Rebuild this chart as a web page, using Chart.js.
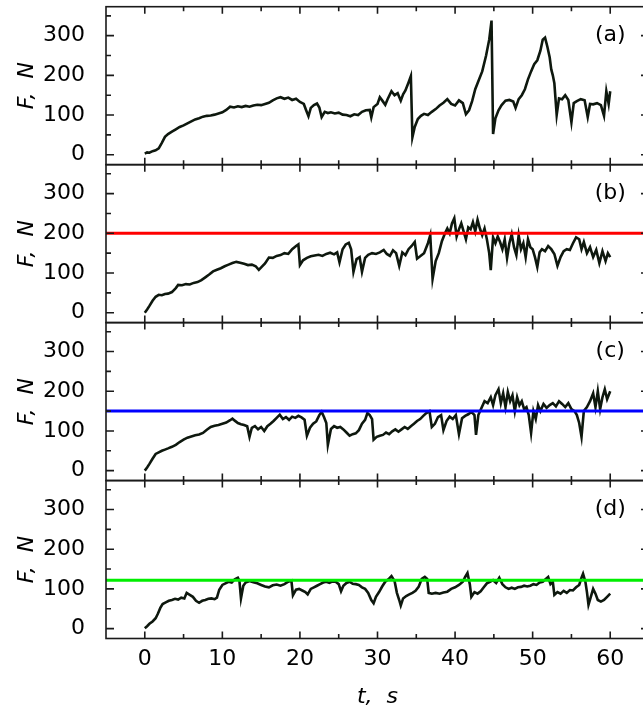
<!DOCTYPE html>
<html>
<head>
<meta charset="utf-8">
<script src="https://cdn.jsdelivr.net/npm/chart.js@4"></script>
<style>
  html, body { margin: 0; padding: 0; background: #fff; overflow: hidden; }
  canvas { display: block; }
</style>
</head>
<body>
<canvas id="forceChart" width="649" height="716"></canvas>
<script>
// time (s) and force (N)
const tA = [0, 0.3, 0.6, 1, 1.4, 1.8, 2.2, 2.6, 3, 3.5, 4, 4.5, 5, 5.5, 6, 6.5, 7, 7.5, 8, 8.5, 9, 9.5, 10, 10.5, 11, 11.5, 12, 12.5, 13, 13.5, 14, 14.5, 15, 15.5, 16, 16.5, 17, 17.5, 18, 18.5, 19, 19.5, 20, 20.5, 20.8, 21.1, 21.4, 21.8, 22.2, 22.5, 22.8, 23.2, 23.6, 24, 24.5, 25, 25.5, 26, 26.5, 27, 27.5, 28, 28.5, 29, 29.2, 29.5, 30, 30.3, 30.6, 31, 31.3, 31.8, 32.2, 32.6, 33, 33.3, 33.6, 34, 34.3, 34.5, 34.8, 35.2, 35.6, 36, 36.5, 37, 37.5, 38, 38.5, 39, 39.5, 40, 40.5, 41, 41.4, 41.8, 42.2, 42.6, 43, 43.5, 44, 44.4, 44.7, 44.9, 45.2, 45.6, 46, 46.5, 47, 47.5, 47.8, 48.2, 48.6, 49, 49.4, 49.8, 50.2, 50.6, 51, 51.3, 51.6, 51.9, 52.2, 52.4, 52.6, 52.8, 53.1, 53.4, 53.8, 54.2, 54.6, 55, 55.3, 55.7, 56.2, 56.7, 57.1, 57.4, 57.8, 58.3, 58.8, 59.2, 59.5, 59.8, 60];
const fA = [3, 6, 5, 9, 11, 16, 30, 45, 52, 58, 64, 70, 74, 79, 84, 89, 92, 96, 98, 99, 101, 104, 107, 113, 121, 119, 122, 120, 123, 121, 124, 126, 125, 128, 131, 137, 142, 145, 141, 144, 138, 141, 133, 128, 112, 97, 118, 125, 129, 119, 95, 108, 105, 107, 104, 106, 101, 100, 97, 102, 100, 108, 112, 113, 94, 120, 128, 145, 137, 126, 140, 160, 150, 155, 136, 152, 162, 182, 198, 44, 70, 90, 98, 103, 100, 108, 115, 124, 131, 140, 128, 124, 137, 130, 102, 112, 135, 165, 185, 210, 250, 290, 338, 52, 92, 112, 125, 136, 138, 134, 118, 140, 150, 165, 190, 210, 228, 238, 262, 290, 295, 272, 245, 215, 200, 180, 100, 142, 140, 150, 138, 82, 130, 135, 140, 137, 95, 128, 127, 130, 125, 98, 160, 128, 160];

const tB = [0, 0.3, 0.6, 1, 1.4, 1.8, 2.2, 2.6, 3, 3.5, 4, 4.3, 4.8, 5.3, 5.8, 6.3, 6.8, 7.3, 7.8, 8.3, 8.8, 9.3, 9.8, 10.3, 10.8, 11.3, 11.8, 12.3, 12.8, 13.3, 13.8, 14.3, 14.7, 15.1, 15.5, 16, 16.5, 17, 17.5, 18, 18.5, 19, 19.5, 19.8, 20, 20.4, 20.9, 21.4, 21.9, 22.4, 22.9, 23.4, 23.9, 24.4, 24.8, 25.1, 25.5, 25.9, 26.3, 26.6, 26.9, 27.3, 27.7, 28, 28.4, 28.8, 29.3, 29.8, 30.3, 30.8, 31.2, 31.6, 32, 32.4, 32.8, 33.2, 33.6, 34, 34.4, 34.8, 35.1, 35.5, 36, 36.5, 36.8, 37.1, 37.5, 37.9, 38.3, 38.7, 39, 39.3, 39.6, 39.9, 40.2, 40.5, 40.8, 41.1, 41.4, 41.7, 42, 42.3, 42.6, 42.9, 43.2, 43.5, 43.8, 44.1, 44.4, 44.6, 44.9, 45.2, 45.5, 45.8, 46.1, 46.4, 46.7, 47, 47.3, 47.6, 47.9, 48.2, 48.5, 48.8, 49.1, 49.4, 49.7, 50, 50.3, 50.6, 50.9, 51.2, 51.6, 52, 52.4, 52.8, 53.2, 53.6, 54, 54.4, 54.8, 55.2, 55.6, 56, 56.3, 56.6, 57, 57.4, 57.8, 58.2, 58.6, 59, 59.4, 59.7, 60];
const fB = [0, 8, 17, 30, 40, 45, 44, 47, 48, 52, 62, 70, 69, 72, 71, 75, 77, 82, 89, 96, 104, 108, 112, 117, 121, 125, 128, 126, 123, 120, 121, 117, 108, 116, 124, 139, 138, 143, 145, 150, 148, 160, 168, 172, 120, 132, 138, 142, 144, 146, 143, 148, 151, 147, 152, 127, 160, 172, 176, 160, 103, 135, 140, 103, 138, 146, 150, 148, 152, 158, 148, 143, 157, 150, 118, 152, 145, 160, 168, 178, 136, 142, 150, 175, 195, 85, 130, 150, 180, 200, 212, 200, 225, 238, 192, 210, 225, 205, 185, 215, 210, 228, 205, 234, 212, 195, 212, 185, 150, 107, 190, 175, 192, 178, 160, 185, 138, 175, 198, 165, 145, 195, 160, 175, 140, 185, 165, 160, 140, 115, 152, 160, 155, 168, 160, 148, 118, 140, 155, 160, 158, 175, 190, 185, 160, 178, 150, 165, 140, 158, 125, 155, 130, 150, 140];

const tC = [0, 0.3, 0.6, 1, 1.4, 1.8, 2.2, 2.6, 3, 3.5, 4, 4.5, 5, 5.5, 6, 6.5, 7, 7.5, 8, 8.5, 9, 9.5, 10, 10.5, 11, 11.3, 11.6, 12, 12.4, 12.8, 13.2, 13.5, 13.8, 14.2, 14.6, 15, 15.4, 15.8, 16.2, 16.6, 17, 17.4, 17.8, 18.2, 18.6, 19, 19.4, 19.8, 20.2, 20.6, 20.9, 21.3, 21.7, 22.1, 22.5, 22.8, 23.1, 23.4, 23.6, 24, 24.4, 24.8, 25.2, 25.6, 26, 26.4, 26.8, 27.2, 27.6, 28, 28.4, 28.7, 29, 29.3, 29.5, 29.9, 30.3, 30.7, 31.1, 31.5, 31.9, 32.3, 32.7, 33.1, 33.5, 33.9, 34.3, 34.7, 35.1, 35.5, 35.9, 36.3, 36.7, 37, 37.4, 37.8, 38.2, 38.5, 38.9, 39.3, 39.7, 40.1, 40.5, 40.9, 41.3, 41.7, 42.1, 42.5, 42.7, 43, 43.4, 43.8, 44.2, 44.6, 44.9, 45.2, 45.6, 45.9, 46.2, 46.5, 46.8, 47.1, 47.4, 47.7, 48, 48.3, 48.6, 48.9, 49.2, 49.5, 49.8, 50.1, 50.4, 50.7, 51, 51.4, 51.8, 52.2, 52.6, 53, 53.4, 53.8, 54.2, 54.6, 55, 55.4, 55.7, 56, 56.3, 56.6, 57, 57.4, 57.8, 58.1, 58.4, 58.7, 59, 59.3, 59.6, 60];
const fC = [0, 8, 17, 30, 42, 46, 50, 53, 56, 60, 65, 72, 78, 83, 86, 89, 91, 95, 103, 110, 113, 115, 118, 121, 127, 131, 126, 120, 117, 115, 112, 85, 108, 112, 104, 110, 100, 112, 118, 125, 133, 141, 130, 135, 128, 136, 133, 138, 134, 128, 88, 108, 118, 124, 140, 148, 135, 120, 65, 105, 112, 108, 110, 104, 96, 88, 92, 94, 102, 118, 128, 145, 140, 130, 78, 85, 88, 90, 96, 92, 99, 104, 98, 104, 110, 105, 112, 118, 125, 130, 138, 145, 150, 110, 118, 135, 140, 102, 125, 136, 130, 140, 92, 132, 138, 142, 148, 140, 90, 140, 158, 175, 170, 185, 165, 190, 205, 170, 195, 160, 198, 175, 190, 150, 185, 165, 175, 155, 160, 140, 95, 150, 130, 165, 150, 168, 158, 165, 170, 162, 175, 168, 160, 170, 155, 150, 140, 120, 85, 150, 160, 175, 195, 160, 200, 155, 185, 205, 180, 200];

const tD = [0, 0.3, 0.6, 1, 1.4, 1.7, 2, 2.3, 2.7, 3.1, 3.5, 3.9, 4.3, 4.7, 5.1, 5.4, 5.8, 6.2, 6.6, 7, 7.4, 7.8, 8.2, 8.6, 9, 9.3, 9.6, 10, 10.4, 10.8, 11.2, 11.6, 12, 12.2, 12.4, 12.7, 13, 13.5, 14, 14.5, 15, 15.5, 16, 16.5, 17, 17.5, 18, 18.5, 18.9, 19.1, 19.5, 19.9, 20.3, 20.7, 21, 21.4, 21.8, 22.2, 22.6, 23, 23.4, 23.8, 24.2, 24.6, 25, 25.3, 25.6, 26, 26.4, 26.8, 27.2, 27.6, 28, 28.4, 28.8, 29.2, 29.5, 29.8, 30.2, 30.6, 31, 31.4, 31.8, 32.2, 32.5, 32.8, 33, 33.3, 33.7, 34.1, 34.5, 34.9, 35.3, 35.7, 36.1, 36.4, 36.6, 37, 37.5, 38, 38.5, 39, 39.5, 40, 40.5, 41, 41.3, 41.6, 41.9, 42.1, 42.5, 42.9, 43.3, 43.7, 44.1, 44.5, 44.9, 45.3, 45.7, 46.1, 46.5, 46.9, 47.3, 47.7, 48.1, 48.5, 48.9, 49.3, 49.7, 50.1, 50.5, 50.9, 51.3, 51.7, 52, 52.3, 52.6, 52.8, 53.2, 53.6, 54, 54.4, 54.8, 55.2, 55.6, 56, 56.3, 56.5, 56.8, 57, 57.2, 57.5, 57.8, 58.1, 58.4, 58.8, 59.2, 59.6, 60];
const fD = [1, 6, 12, 18, 26, 38, 52, 62, 66, 70, 72, 75, 73, 78, 76, 90, 85, 80, 70, 65, 70, 72, 75, 76, 74, 78, 98, 110, 114, 118, 116, 124, 128, 120, 76, 108, 116, 120, 117, 114, 110, 106, 104, 109, 111, 108, 112, 118, 121, 84, 98, 100, 96, 92, 86, 100, 104, 108, 112, 116, 118, 115, 119, 118, 112, 94, 108, 115, 118, 113, 112, 110, 104, 100, 90, 72, 64, 80, 92, 106, 118, 124, 132, 120, 90, 72, 58, 76, 82, 86, 90, 95, 105, 125, 130, 125, 90, 88, 90, 88, 91, 93, 100, 104, 110, 118, 130, 140, 112, 80, 92, 88, 94, 104, 114, 118, 122, 115, 128, 112, 104, 100, 103, 100, 104, 105, 108, 106, 108, 112, 110, 116, 118, 125, 130, 112, 118, 85, 92, 88, 95, 90, 97, 96, 104, 110, 128, 138, 118, 92, 60, 80, 100, 88, 72, 68, 72, 80, 88];

// threshold levels drawn in panels (b), (c), (d)
const levelB = 200;
const levelC = 150;
const levelD = 122;

const xTicks = [0, 10, 20, 30, 40, 50, 60];
const yTicks = [0, 100, 200, 300];
const panelLetters = ['(a)', '(b)', '(c)', '(d)'];

const LINE = '#0e180e';
const FONT = '"DejaVu Sans", "Liberation Sans", Arial, sans-serif';
Chart.defaults.font.family = FONT;
Chart.defaults.color = '#000';

function pts(ts, fs) {
  return ts.map((t, i) => ({ x: t, y: fs[i] }));
}

function level(v) {
  return [{ x: -5, y: v }, { x: 65, y: v }];
}

function panelAxis() {
  return {
    type: 'linear',
    position: 'left',
    stack: 'panels',
    stackWeight: 1,
    min: -25,
    max: 373,
    grid: { display: false },
    border: { display: false },
    ticks: { padding: 13, font: { size: 22 }, color: '#000' },
    title: { display: true, text: 'F,  N', color: '#000', font: { size: 22, style: 'italic' }, padding: { top: 14, bottom: 0 } },
    afterBuildTicks(scale) {
      scale.ticks = yTicks.map((v) => ({ value: v }));
    },
    afterFit(scale) {
      scale.width = 106;
      scale.paddingTop = 0;
      scale.paddingBottom = 0;
    }
  };
}

const panels = [
  { axis: 'ya', letter: panelLetters[0] },
  { axis: 'yb', letter: panelLetters[1] },
  { axis: 'yc', letter: panelLetters[2] },
  { axis: 'yd', letter: panelLetters[3] }
];

// box around every panel with inward ticks, plus the panel letter
const frames = {
  id: 'frames',
  afterDatasetsDraw(chart) {
    const { ctx, chartArea, scales } = chart;
    const x = scales.x;
    const left = chartArea.left, right = chartArea.right;
    ctx.save();
    ctx.strokeStyle = '#1a1a1a';
    ctx.lineWidth = 1.6;
    panels.forEach((p) => {
      const y = scales[p.axis];
      const top = y.top, bottom = y.bottom;
      ctx.strokeRect(left, top, right - left, bottom - top);
      ctx.beginPath();
      xTicks.forEach((t) => {
        [t, t + 5].forEach((v, k) => {
          if (v > 60) return;
          const px = x.getPixelForValue(v);
          const len = k === 0 ? 7 : 4.5;
          ctx.moveTo(px, top); ctx.lineTo(px, top + len);
          ctx.moveTo(px, bottom); ctx.lineTo(px, bottom - len);
        });
      });
      yTicks.forEach((f) => {
        [f, f + 50].forEach((v, k) => {
          const py = y.getPixelForValue(v);
          const len = k === 0 ? 8 : 5;
          ctx.moveTo(left, py); ctx.lineTo(left + len, py);
          ctx.moveTo(right, py); ctx.lineTo(right - len, py);
        });
      });
      ctx.stroke();
      ctx.fillStyle = '#000';
      ctx.font = '22px ' + FONT;
      ctx.textAlign = 'center';
      ctx.textBaseline = 'middle';
      ctx.fillText(p.letter, x.getPixelForValue(60), y.getPixelForValue(300));
    });
    ctx.restore();
  }
};

const dataLine = { borderColor: LINE, borderWidth: 2.6, pointRadius: 0, tension: 0, order: 2 };
const refLine = { borderWidth: 3, pointRadius: 0, order: 1 };

new Chart(document.getElementById('forceChart'), {
  type: 'line',
  data: {
    datasets: [
      Object.assign({ data: pts(tA, fA), yAxisID: 'ya' }, dataLine),
      Object.assign({ data: pts(tB, fB), yAxisID: 'yb' }, dataLine),
      Object.assign({ data: pts(tC, fC), yAxisID: 'yc' }, dataLine),
      Object.assign({ data: pts(tD, fD), yAxisID: 'yd' }, dataLine),
      Object.assign({ data: level(levelB), yAxisID: 'yb', borderColor: '#ff0000' }, refLine),
      Object.assign({ data: level(levelC), yAxisID: 'yc', borderColor: '#0000ff' }, refLine),
      Object.assign({ data: level(levelD), yAxisID: 'yd', borderColor: '#00ee00' }, refLine)
    ]
  },
  options: {
    responsive: false,
    animation: false,
    layout: { padding: { top: 6.7, left: 0, right: 0, bottom: 0 } },
    plugins: { legend: { display: false }, tooltip: { enabled: false } },
    scales: {
      x: {
        type: 'linear',
        position: 'bottom',
        min: -5,
        max: 65,
        grid: { display: false },
        border: { display: false },
        ticks: { padding: 0, maxRotation: 0, font: { size: 22 }, color: '#000' },
        title: { display: true, text: 't,  s', color: '#000', font: { size: 22, style: 'italic' }, padding: { top: 0, bottom: 6 } },
        afterBuildTicks(scale) {
          scale.ticks = xTicks.map((v) => ({ value: v }));
        },
        afterFit(scale) {
          scale.height = 77.5;
          scale.paddingLeft = 0;
          scale.paddingRight = 0;
        }
      },
      yd: panelAxis(),
      yc: panelAxis(),
      yb: panelAxis(),
      ya: panelAxis()
    }
  },
  plugins: [frames]
});
</script>
</body>
</html>
